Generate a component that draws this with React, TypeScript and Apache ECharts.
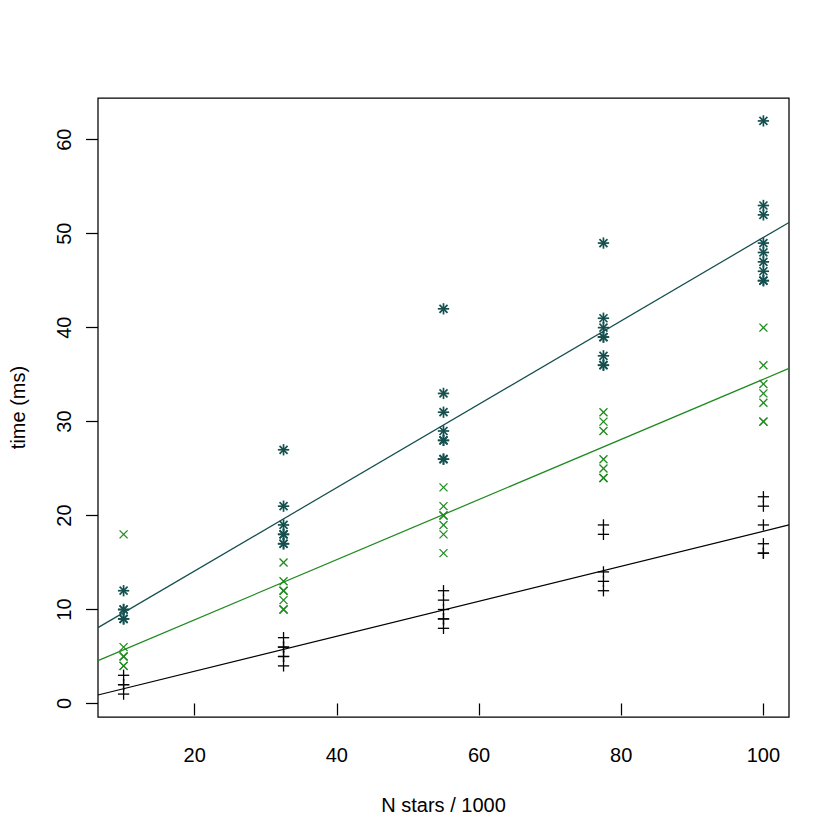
import React, { useEffect, useRef } from "react";
import * as echarts from "echarts";

// x positions (N stars / 1000)
const NX = [10, 32.5, 55, 77.5, 100];
// series values per x position
const plusVals = [
  [1, 2, 2, 3],
  [4, 5, 5, 6, 6, 7],
  [8, 9, 9, 10, 11, 12],
  [12, 13, 14, 18, 19],
  [16, 16, 17, 19, 21, 22],
];
const crossVals = [
  [4, 4, 5, 5, 6, 18],
  [10, 10, 11, 12, 12, 13, 15],
  [16, 18, 19, 20, 20, 21, 23],
  [24, 24, 25, 26, 29, 30, 31],
  [30, 30, 32, 33, 34, 36, 40],
];
const starVals = [
  [9, 9, 10, 10, 12],
  [17, 17, 18, 18, 19, 21, 27],
  [26, 26, 28, 28, 29, 31, 33, 42],
  [36, 36, 37, 39, 39, 40, 41, 49],
  [45, 45, 46, 47, 48, 49, 52, 53, 62],
];
// fitted lines [intercept, slope]
const plusFit = [-0.29, 0.1862];
const crossFit = [2.51, 0.32];
const starFit = [5.23, 0.4437];

const xTicks = [20, 40, 60, 80, 100];
const yTicks = [0, 10, 20, 30, 40, 50, 60];
const X_MIN = 6.4;
const X_MAX = 103.6;
const Y_MIN = -1.44;
const Y_MAX = 64.44;

const BLACK = "#000000";
const GREEN = "#1f8a1f";
const TEAL = "#15504f";
const FONT = "'Liberation Sans', Helvetica, Arial, sans-serif";

function flatten(vals: number[][]) {
  const out: number[][] = [];
  vals.forEach((arr, i) => arr.forEach((v) => out.push([NX[i], v])));
  return out;
}

const R = 4;
const S2 = Math.SQRT2 * R;
const plusSeg = [
  [-S2, 0, S2, 0],
  [0, -S2, 0, S2],
];
const crossSeg = [
  [-R, -R, R, R],
  [-R, R, R, -R],
];
const starSeg = [...plusSeg, ...crossSeg];

function markerSeries(name: string, vals: number[][], segs: number[][], color: string, lw: number) {
  return {
    type: "custom",
    name,
    data: flatten(vals),
    renderItem: (params: any, api: any) => {
      const p = api.coord([api.value(0), api.value(1)]);
      return {
        type: "group",
        children: segs.map((s) => ({
          type: "line",
          shape: { x1: p[0] + s[0], y1: p[1] + s[1], x2: p[0] + s[2], y2: p[1] + s[3] },
          style: { stroke: color, lineWidth: lw },
        })),
      };
    },
  };
}

function fitSeries(fit: number[], color: string) {
  return {
    type: "line",
    data: [
      [X_MIN, fit[0] + fit[1] * X_MIN],
      [X_MAX, fit[0] + fit[1] * X_MAX],
    ],
    symbol: "none",
    lineStyle: { color, width: 1.25 },
    silent: true,
  };
}

export default function App() {
  const ref = useRef<HTMLDivElement>(null);
  useEffect(() => {
    if (!ref.current) return;
    const chart = echarts.init(ref.current, undefined, { renderer: "svg" });
    chart.setOption({
      animation: false,
      backgroundColor: "#ffffff",
      textStyle: { fontFamily: FONT },
      grid: {
        left: 98,
        right: 51,
        top: 98,
        bottom: 123,
        show: true,
        borderColor: "#000",
        borderWidth: 1.25,
        backgroundColor: "transparent",
      },
      xAxis: {
        type: "value",
        min: X_MIN,
        max: X_MAX,
        name: "N stars / 1000",
        nameLocation: "middle",
        nameGap: 78,
        nameTextStyle: { fontSize: 20, color: "#000", fontFamily: FONT },
        axisLine: { show: false },
        splitLine: { show: false },
        axisTick: {
          show: true,
          customValues: xTicks,
          length: 12,
          lineStyle: { color: "#000", width: 1.25 },
        },
        axisLabel: {
          customValues: xTicks,
          fontSize: 20,
          color: "#000",
          margin: 28,
          fontFamily: FONT,
        },
      },
      yAxis: {
        type: "value",
        min: Y_MIN,
        max: Y_MAX,
        name: "time (ms)",
        nameLocation: "middle",
        nameGap: 70,
        nameRotate: 90,
        nameTextStyle: { fontSize: 20, color: "#000", fontFamily: FONT },
        axisLine: { show: false },
        splitLine: { show: false },
        axisTick: {
          show: true,
          customValues: yTicks,
          length: 12,
          lineStyle: { color: "#000", width: 1.25 },
        },
        axisLabel: {
          customValues: yTicks,
          fontSize: 20,
          color: "#000",
          margin: 24,
          rotate: 90,
          fontFamily: FONT,
        },
      },
      series: [
        fitSeries(plusFit, BLACK),
        fitSeries(crossFit, GREEN),
        fitSeries(starFit, TEAL),
        markerSeries("plus", plusVals, plusSeg, BLACK, 1.3),
        markerSeries("cross", crossVals, crossSeg, GREEN, 1.3),
        markerSeries("star", starVals, starSeg, TEAL, 1.7),
      ],
    });
    return () => chart.dispose();
  }, []);
  return (
    <div
      ref={ref}
      style={{ position: "fixed", left: 0, top: 0, width: 840, height: 840 }}
    />
  );
}
